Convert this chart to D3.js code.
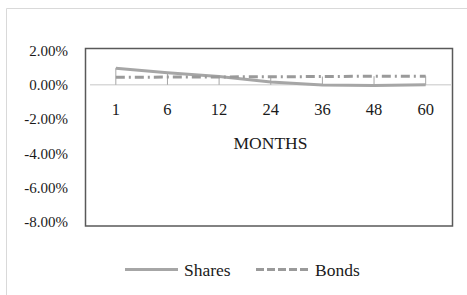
<!DOCTYPE html>
<html>
<head>
<meta charset="utf-8">
<script src="https://cdn.jsdelivr.net/npm/d3@7"></script>
<style>
  body { margin: 0; background: #fff; }
  svg { display: block; font-family: "Liberation Serif", "DejaVu Serif", serif; }
</style>
</head>
<body>
<svg id="chart" width="467" height="295"></svg>
<script>
const months = ["1", "6", "12", "24", "36", "48", "60"];
const shares = [0.97, 0.70, 0.49, 0.16, -0.01, -0.04, 0.01];
const bonds = [0.44, 0.45, 0.46, 0.47, 0.48, 0.50, 0.50];
const yTicks = [2, 0, -2, -4, -6, -8];
const seriesNames = ["Shares", "Bonds"];

const svg = d3.select("#chart");
const grey = "#a6a6a6";

// outer chart frame (runs off the right and bottom of the picture)
svg.append("path")
    .attr("d", "M6.5,300 V8.5 H480")
    .attr("fill", "none").attr("stroke", "#d9d9d9");

const x = d3.scaleBand().domain(months).range([90, 451.5]);
const y = d3.scaleLinear().domain([-8, 2]).range([222, 50.5]);

// plot box
svg.append("rect")
    .attr("x", 85.5).attr("y", 48.5).attr("width", 367).attr("height", 177.5)
    .attr("fill", "none").attr("stroke", "#595959").attr("stroke-width", 1.5);

// y labels (plain hyphen, like the original)
svg.append("g").selectAll("text").data(yTicks).join("text")
    .attr("x", 68).attr("y", d => y(d)).attr("dy", "0.35em")
    .attr("text-anchor", "end").attr("font-size", 15).attr("fill", "#1a1a1a")
    .text(d => d.toFixed(2) + "%");

// zero axis line
svg.append("line")
    .attr("x1", x.range()[0]).attr("x2", x.range()[1])
    .attr("y1", y(0)).attr("y2", y(0))
    .attr("stroke", "#d9d9d9").attr("stroke-width", 1.5);

// category labels
svg.append("g").selectAll("text").data(months).join("text")
    .attr("x", d => x(d) + x.bandwidth() / 2).attr("y", 114.5)
    .attr("text-anchor", "middle").attr("font-size", 16.5).attr("fill", "#1a1a1a")
    .text(d => d);

svg.append("text")
    .attr("x", 270.5).attr("y", 148.5)
    .attr("text-anchor", "middle").attr("font-size", 17.5).attr("fill", "#1a1a1a")
    .text("MONTHS");

const cx = d => x(d) + x.bandwidth() / 2;

// drop lines
svg.append("g").selectAll("line").data(months).join("line")
    .attr("x1", cx).attr("x2", cx)
    .attr("y1", (d, i) => y(Math.max(shares[i], bonds[i])))
    .attr("y2", y(0))
    .attr("stroke", grey).attr("stroke-width", 1);

const line = d3.line().x((d, i) => cx(months[i])).y(d => y(d));

svg.append("path").datum(shares)
    .attr("d", line).attr("fill", "none")
    .attr("stroke", grey).attr("stroke-width", 3);

svg.append("path").datum(bonds)
    .attr("d", line).attr("fill", "none")
    .attr("stroke", "#9a9a9a").attr("stroke-width", 3)
    .attr("stroke-dasharray", "9,4,2,4");

// legend
const legend = svg.append("g");
legend.append("line").attr("x1", 125).attr("x2", 178).attr("y1", 269.5).attr("y2", 269.5)
    .attr("stroke", grey).attr("stroke-width", 3);
legend.append("text").attr("x", 184).attr("y", 275.5).attr("font-size", 17.5).attr("fill", "#1a1a1a")
    .text(seriesNames[0]);
legend.append("line").attr("x1", 256).attr("x2", 310).attr("y1", 269.5).attr("y2", 269.5)
    .attr("stroke", "#9a9a9a").attr("stroke-width", 3).attr("stroke-dasharray", "8,3");
legend.append("text").attr("x", 315).attr("y", 275.5).attr("font-size", 17.5).attr("fill", "#1a1a1a")
    .text(seriesNames[1]);
</script>
</body>
</html>
